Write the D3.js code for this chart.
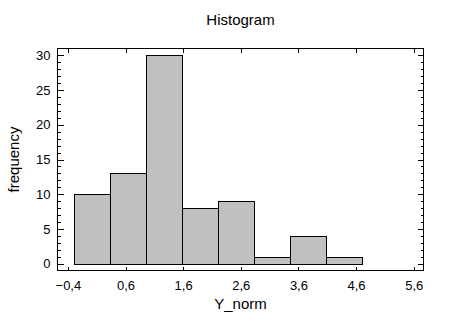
<!DOCTYPE html>
<html>
<head>
<meta charset="utf-8">
<script src="https://cdn.jsdelivr.net/npm/d3@7"></script>
<style>
  html, body { margin: 0; padding: 0; background: #fff; }
  svg { display: block; }
  text { font-family: "Liberation Sans", Arial, sans-serif; fill: #000; }
  .tick-label { font-size: 13px; }
  .title { font-size: 15px; }
</style>
</head>
<body>
<svg id="chart" width="451" height="330"></svg>
<script>
// Histogram bins: edges on Y_norm and the frequency in each bin
const binEdges = [-0.3, 0.325, 0.95, 1.575, 2.2, 2.825, 3.45, 4.075, 4.7];
const counts = [10, 13, 30, 8, 9, 1, 4, 1];
const xTicks = [-0.4, 0.6, 1.6, 2.6, 3.6, 4.6, 5.6];
const yTicks = [0, 5, 10, 15, 20, 25, 30];
const yMinorTicks = d3.range(0, 31, 1);

const bins = counts.map((c, i) => ({ x0: binEdges[i], x1: binEdges[i + 1], count: c }));

const svg = d3.select("#chart");
const frame = { left: 57.5, right: 423.5, top: 48.5, bottom: 270.5 };

const x = d3.scaleLinear().domain([-0.58, 5.77]).range([frame.left, frame.right]);
const y = d3.scaleLinear().domain([-1, 31]).range([frame.bottom, frame.top]);

const fmt = d => d3.format(".1f")(d).replace(".", ",");

// Bars
svg.append("g")
  .selectAll("rect")
  .data(bins)
  .join("rect")
  .attr("x", d => Math.round(x(d.x0)) + 0.5)
  .attr("width", d => Math.round(x(d.x1)) - Math.round(x(d.x0)))
  .attr("y", d => Math.round(y(d.count)) + 0.5)
  .attr("height", d => Math.round(y(0)) - Math.round(y(d.count)))
  .attr("fill", "#c0c0c0")
  .attr("stroke", "#000")
  .attr("stroke-width", 1)
  .attr("shape-rendering", "crispEdges");

function styleAxis(g, showLabels) {
  g.attr("font-size", null).attr("font-family", null);
  g.select(".domain").remove();
  g.selectAll(".tick line").attr("stroke", "#000").attr("shape-rendering", "crispEdges");
  if (showLabels) g.selectAll("text").attr("class", "tick-label").attr("fill", "#000");
  else g.selectAll("text").remove();
}

// Left axis (ticks point inward)
svg.append("g")
  .attr("transform", `translate(${frame.left},0)`)
  .call(d3.axisLeft(y).tickValues(yMinorTicks).tickSize(-3).tickFormat(""))
  .call(g => styleAxis(g, false));
svg.append("g")
  .attr("transform", `translate(${frame.left},0)`)
  .call(d3.axisLeft(y).tickValues(yTicks).tickSize(-6).tickPadding(7).tickFormat(d3.format("d")))
  .call(g => styleAxis(g, true));

// Right axis mirror
svg.append("g")
  .attr("transform", `translate(${frame.right},0)`)
  .call(d3.axisRight(y).tickValues(yMinorTicks).tickSize(-3).tickFormat(""))
  .call(g => styleAxis(g, false));
svg.append("g")
  .attr("transform", `translate(${frame.right},0)`)
  .call(d3.axisRight(y).tickValues(yTicks).tickSize(-6).tickFormat(""))
  .call(g => styleAxis(g, false));

// Bottom axis
svg.append("g")
  .attr("transform", `translate(0,${frame.bottom})`)
  .call(d3.axisBottom(x).tickValues(xTicks).tickSize(-4).tickPadding(10.3).tickFormat(fmt))
  .call(g => styleAxis(g, true));

// Top axis mirror
svg.append("g")
  .attr("transform", `translate(0,${frame.top})`)
  .call(d3.axisTop(x).tickValues(xTicks).tickSize(-4).tickFormat(""))
  .call(g => styleAxis(g, false));

// Plot frame
svg.append("rect")
  .attr("x", frame.left)
  .attr("y", frame.top)
  .attr("width", frame.right - frame.left)
  .attr("height", frame.bottom - frame.top)
  .attr("fill", "none")
  .attr("stroke", "#000")
  .attr("stroke-width", 1)
  .attr("shape-rendering", "crispEdges");

// Titles
svg.append("text")
  .attr("class", "title")
  .attr("x", (frame.left + frame.right) / 2)
  .attr("y", 25)
  .attr("text-anchor", "middle")
  .text("Histogram");

svg.append("text")
  .attr("class", "title")
  .attr("x", (frame.left + frame.right) / 2)
  .attr("y", 309)
  .attr("text-anchor", "middle")
  .text("Y_norm");

svg.append("text")
  .attr("class", "title")
  .attr("transform", `translate(19,${(frame.top + frame.bottom) / 2}) rotate(-90)`)
  .attr("text-anchor", "middle")
  .text("frequency");
</script>
</body>
</html>
